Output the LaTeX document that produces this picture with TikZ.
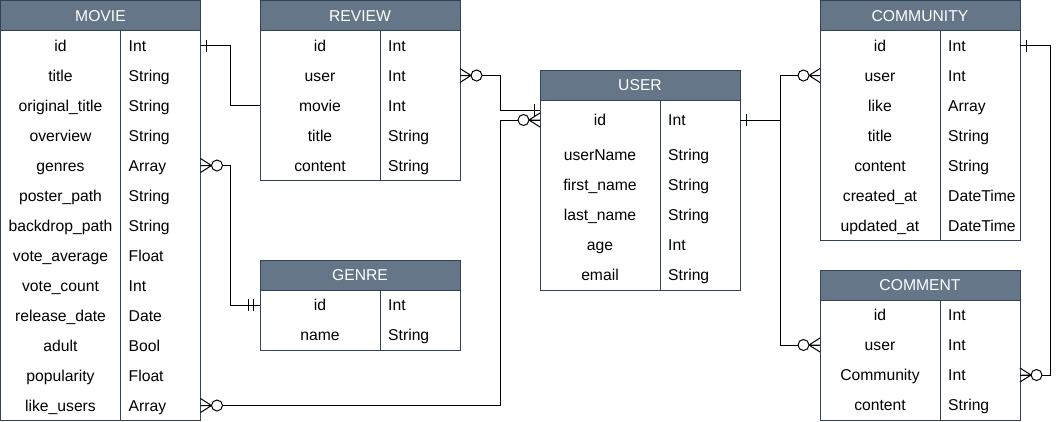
\documentclass[tikz,border=0pt]{standalone}
\usepackage{fontspec}
\setmainfont{Liberation Sans}
\definecolor{hdrfill}{HTML}{647687}
\definecolor{hdrline}{HTML}{314354}
\newcommand\erfs{\fontsize{15.7}{18}\selectfont}
\newcommand\ertable[7]{%
  \pgfmathsetmacro\erbot{#3+30+#6+30*(#5-1)}%
  \path[hdrbox] (#2,#3) rectangle (#2+200,#3+30);
  \node[hdrtext] (#1) at (#2+100,#3+20.8) {#4};
  \draw[tbl] (#2,#3+30) rectangle (#2+200,\erbot);
  \draw[tbl] (#2+120,#3+30) -- (#2+120,\erbot);
  \foreach \f/\t [count=\i] in {#7} {
    \pgfmathsetmacro\yc{\i==1 ? #3+30+#6/2 : #3+#6+30*\i-15}
    \node[fname] (#1-\i) at (#2+60,\yc+5.8) {\f};
    \node[ftype] (#1-\i-t) at (#2+128,\yc+5.8) {\t};
    \coordinate (#1-\i-l) at (#2,\yc);
    \coordinate (#1-\i-r) at (#2+200,\yc);
  }%
}
\tikzset{
  zmany/.pic={\draw[line width=1pt] (0,-7) -- (11,0) -- (0,7) (0,0) -- (11,0);
              \draw[line width=1pt, fill=white] (16.5,0) circle[radius=5.5pt];},
  onebar/.pic={\draw[line width=1pt] (6,-6) -- (6,6);},
  twobar/.pic={\draw[line width=1pt] (7,-6) -- (7,6) (12,-6) -- (12,6);},
}
\begin{document}
\begin{tikzpicture}[x=1pt,y=-1pt,
  tbl/.style={draw=hdrline, line width=1pt},
  hdrbox/.style={fill=hdrfill, draw=hdrline, line width=1pt},
  hdrtext/.style={text=white, font=\erfs, anchor=base, inner sep=0pt},
  fname/.style={font=\erfs, anchor=base, inner sep=0pt},
  ftype/.style={font=\erfs, anchor=base west, inner sep=0pt},
  conn/.style={draw=black, line width=1pt},
]
\fill[white] (0,0) rectangle (1064,421);
\useasboundingbox (0,0) rectangle (1064,421);

\ertable{movie}{0.5}{0.5}{MOVIE}{13}{30}{id/Int, title/String, original\_title/String, overview/String, genres/Array, poster\_path/String, backdrop\_path/String, vote\_average/Float, vote\_count/Int, release\_date/Date, adult/Bool, popularity/Float, like\_users/Array}
\ertable{review}{260}{0.5}{REVIEW}{5}{30}{id/Int, user/Int, movie/Int, title/String, content/String}
\ertable{genre}{260}{260}{GENRE}{2}{30}{id/Int, name/String}
\ertable{user}{540}{70}{USER}{6}{40}{id/Int, userName/String, first\_name/String, last\_name/String, age/Int, email/String}
\ertable{community}{820}{0.5}{COMMUNITY}{7}{30}{id/Int, user/Int, like/Array, title/String, content/String, created\_at/DateTime, updated\_at/DateTime}
\ertable{comment}{820}{270}{COMMENT}{4}{30}{id/Int, user/Int, Community/Int, content/String}

\coordinate (user-in) at (540,110);

\draw[conn] (movie-1-r) -- ++(30,0) |- (review-3-l);
\draw[conn] (review-2-r) -- ++(40,0) |- (user-in);
\draw[conn] (movie-13-r) -- ++(300,0) |- (user-1-l);
\draw[conn] (movie-5-r) -- ++(30,0) |- (genre-1-l);
\draw[conn] (user-1-r) -- ++(40,0) coordinate (jU) |- (community-2-l);
\draw[conn] (jU) |- (comment-2-l);
\draw[conn] (community-1-r) -- ++(30,0) |- (comment-3-r);

\pic at (movie-1-r) {onebar};
\pic at (review-2-r) {zmany};
\pic[xscale=-1] at (user-in) {onebar};
\pic[xscale=-1] at (user-1-l) {zmany};
\pic at (movie-13-r) {zmany};
\pic at (movie-5-r) {zmany};
\pic[xscale=-1] at (genre-1-l) {twobar};
\pic at (user-1-r) {onebar};
\pic[xscale=-1] at (community-2-l) {zmany};
\pic[xscale=-1] at (comment-2-l) {zmany};
\pic at (community-1-r) {onebar};
\pic at (comment-3-r) {zmany};
\end{tikzpicture}
\end{document}
